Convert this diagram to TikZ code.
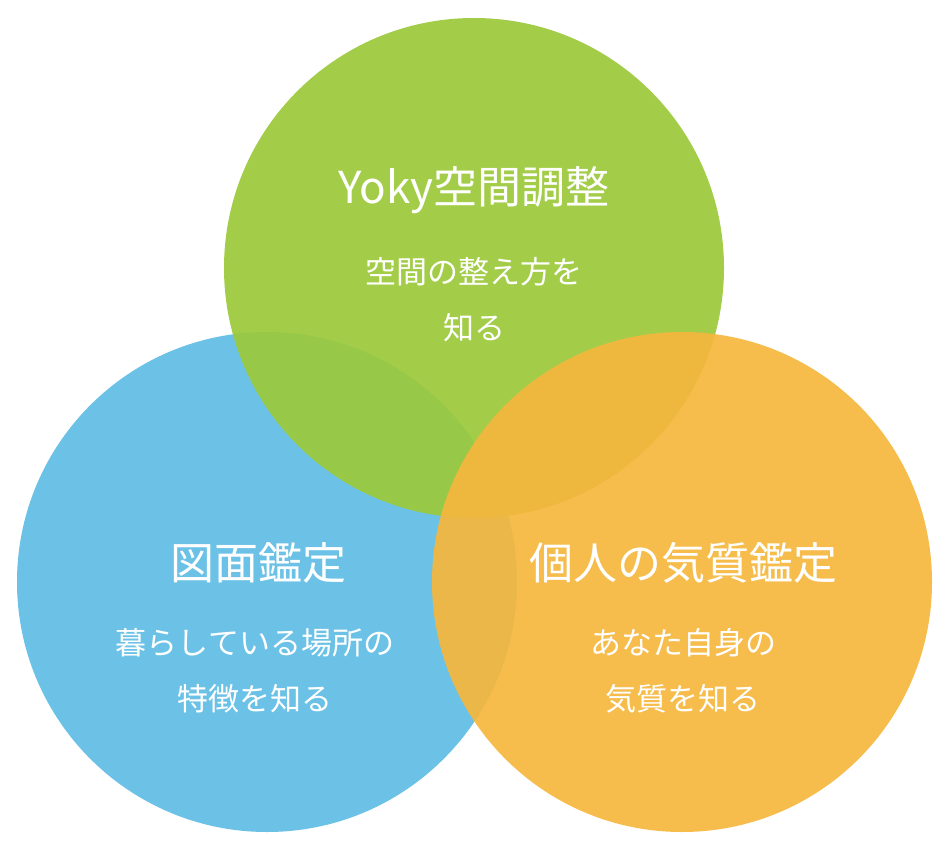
\documentclass[tikz,border=0pt]{standalone}
\usepackage{fontspec}
\setmainfont{Noto Sans CJK JP}
\definecolor{cgreen}{HTML}{9BC93A}
\definecolor{cblue}{HTML}{6BC2E6}
\definecolor{corange}{HTML}{F5B73E}
\tikzset{
  title/.style={text=white,font=\fontsize{44}{48}\selectfont},
  sub/.style={text=white,font=\fontsize{31}{56}\selectfont,align=center},
}
\begin{document}
\begin{tikzpicture}[x=1pt,y=-1pt]
\useasboundingbox (0,0) rectangle (948,850);
\fill[cblue] (267,582) circle (250);
\fill[cgreen,fill opacity=0.92] (474,268) circle (250);
\fill[corange,fill opacity=0.93] (682,582) circle (250);
\node[title] (t1) at (474,190) {Yoky空間調整};
\node[sub] (s1) at (474,300) {空間の整え方を\\知る};
\node[title] (t2) at (258,563) {図面鑑定};
\node[sub] (s2) at (255,671) {暮らしている場所の\\特徴を知る};
\node[title] (t3) at (683,563) {個人の気質鑑定};
\node[sub] (s3) at (683,671) {あなた自身の\\気質を知る};
\end{tikzpicture}
\end{document}
